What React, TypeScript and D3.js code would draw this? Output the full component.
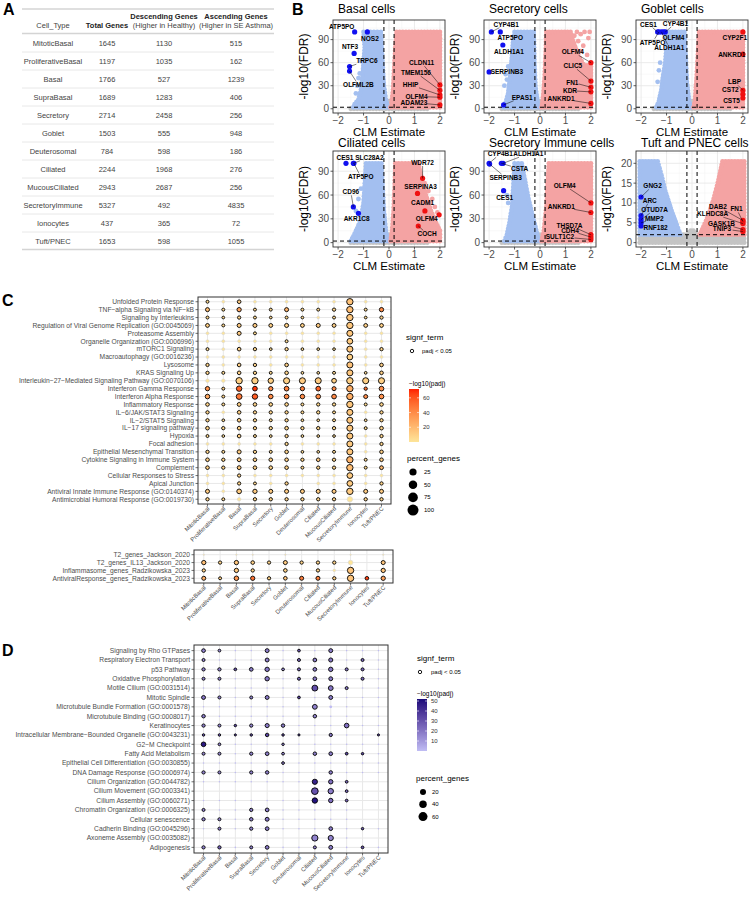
import React from "react";
import * as d3 from "d3";

const FONT = "'Liberation Sans', Arial, Helvetica, sans-serif";

// ---------- A: gene count table ----------
const cellTypes = ["MitoticBasal", "ProliferativeBasal", "Basal", "SupraBasal", "Secretory", "Goblet", "Deuterosomal", "Ciliated", "MucousCiliated", "SecretoryImmune", "Ionocytes", "Tuft/PNEC"];
const totalGenes = [1645, 1197, 1766, 1689, 2714, 1503, 784, 2244, 2943, 5327, 437, 1653];
const descendingGenes = [1130, 1035, 527, 1283, 2458, 555, 598, 1968, 2687, 492, 365, 598];
const ascendingGenes = [515, 162, 1239, 406, 256, 948, 186, 276, 256, 4835, 72, 1055];

// ---------- B: volcano plots ----------
type Pt = [number, number];
const volcanoTitles = ["Basal cells", "Secretory cells", "Goblet cells", "Ciliated cells", "Secretory Immune cells", "Tuft and PNEC cells"];
const volcanoYMax = [110, 110, 110, 110, 110, 22];
const volcanoYTicks = [[0, 30, 60, 90], [0, 30, 60, 90], [0, 30, 60, 90], [0, 30, 60, 90], [0, 30, 60, 90], [0, 5, 10, 15, 20]];
const fdrCut = 2;
const estimateCut = 0.2;

// outlines of the dense point clouds (estimate, -log10 FDR)
const blueClouds: Pt[][] = [
  [[-1.0, 100], [-0.32, 100], [-0.28, 75], [-0.24, 50], [-0.2, 30], [-0.12, 12], [-0.06, 4], [-0.04, 2], [-1.4, 2], [-1.35, 6], [-1.2, 12], [-1.1, 25], [-1.05, 40], [-1.0, 60], [-0.95, 80]],
  [[-1.0, 100], [-0.25, 100], [-0.22, 60], [-0.18, 30], [-0.1, 10], [-0.05, 2], [-1.45, 2], [-1.35, 8], [-1.25, 20], [-1.2, 35], [-1.15, 50], [-1.1, 70], [-1.05, 90]],
  [[-1.0, 100], [-0.3, 100], [-0.25, 70], [-0.2, 35], [-0.12, 12], [-0.05, 2], [-1.4, 2], [-1.3, 10], [-1.2, 25], [-1.15, 40], [-1.05, 60], [-1.0, 80]],
  [[-0.9, 100], [-0.3, 100], [-0.25, 70], [-0.2, 40], [-0.12, 15], [-0.05, 2], [-1.5, 2], [-1.4, 8], [-1.25, 18], [-1.1, 30], [-1.0, 50], [-0.95, 75]],
  [[-1.0, 100], [-0.72, 100], [-0.6, 80], [-0.45, 55], [-0.3, 35], [-0.18, 20], [-0.08, 6], [-0.04, 2], [-1.4, 2], [-1.3, 10], [-1.2, 25], [-1.1, 45], [-1.05, 70]],
  [[-2.05, 20.5], [-1.35, 20.5], [-1.2, 17], [-1.05, 13], [-0.8, 8], [-0.6, 4.5], [-0.45, 2], [-2.05, 2]],
];
const redClouds: Pt[][] = [
  [[0.3, 100], [2.0, 100], [2.0, 2], [0.06, 2], [0.1, 8], [0.16, 25], [0.2, 50], [0.25, 80]],
  [[0.25, 100], [1.2, 100], [1.3, 88], [1.5, 70], [1.7, 58], [2.0, 55], [2.0, 2], [0.06, 2], [0.12, 15], [0.18, 40], [0.22, 70]],
  [[0.28, 100], [2.0, 100], [2.0, 2], [0.06, 2], [0.12, 12], [0.18, 40], [0.24, 75]],
  [[0.25, 100], [1.15, 100], [1.25, 85], [1.45, 60], [1.65, 40], [1.85, 25], [2.0, 15], [2.0, 2], [0.06, 2], [0.12, 15], [0.18, 40], [0.22, 70]],
  [[0.35, 100], [2.0, 100], [2.0, 2], [0.06, 2], [0.15, 15], [0.25, 45], [0.3, 75]],
  [[1.2, 20.5], [2.05, 20.5], [2.05, 2], [0.3, 2], [0.45, 4], [0.65, 7], [0.85, 11], [1.05, 16]],
];
const greyCloud: Pt[] = [[-1.5, 0], [1.5, 0], [1.0, 2], [0.12, 3], [0.05, 8], [0, 10], [-0.05, 8], [-0.12, 3], [-1.0, 2]];
const greyClouds: Pt[][] = [
  greyCloud, greyCloud, greyCloud, greyCloud, greyCloud,
  [[-2.05, 0], [2.05, 0], [2.05, 2], [0.2, 2], [0.05, 3], [-0.05, 3], [-0.2, 2], [-2.05, 2]],
];
// sparse points outside the dense clouds
const blueScatter: Pt[][] = [
  [[-1.2, 40], [-1.15, 46], [-1.1, 62], [-1.25, 30], [-1.3, 20]],
  [[-1.35, 45], [-1.3, 38], [-1.4, 30], [-1.25, 55]],
  [[-1.3, 50], [-1.25, 60], [-1.35, 35]],
  [[-1.2, 55], [-1.3, 40], [-1.1, 68]],
  [[-1.25, 50], [-1.3, 60], [-0.85, 40]],
  [],
];
const redScatter: Pt[][] = [
  [],
  [[1.45, 100], [1.6, 97], [1.75, 100], [1.9, 92], [1.5, 88], [1.7, 82], [1.85, 70], [1.35, 95], [1.95, 100], [1.6, 75]],
  [],
  [[1.4, 75], [1.55, 65], [1.7, 55], [1.8, 45], [1.9, 38], [1.6, 50]],
  [],
  [],
];

// highlighted genes: name, estimate, -log10 FDR
const geneNames: string[][] = [
  ["ATP5PO", "NOS2", "NTF3", "TRPC6", "OLFML2B", "CLDN11", "TMEM156", "HHIP", "OLFM4", "ADAM23"],
  ["CYP4B1", "ATP5PO", "ALDH1A1", "SERPINB3", "EPAS1", "OLFM4", "CLIC5", "FN1", "KDR", "ANKRD1"],
  ["CES1", "CYP4B1", "ATP5PO", "OLFM4", "ALDH1A1", "CYP2F1", "ANKRD1", "LBP", "CST2", "CST5"],
  ["CES1", "SLC28A2", "ATP5PO", "CD96", "AKR1C8", "WDR72", "SERPINA3", "CADM1", "OLFM4", "COCH"],
  ["CYP4B1", "ALDH1A1", "CSTA", "SERPINB3", "CES1", "OLFM4", "ANKRD1", "THSD7A", "CDH4", "SULT1C2"],
  ["GNG2", "ARC", "OTUD7A", "MMP2", "RNF182", "DAB2", "FN1", "KLHDC8A", "GASK1B", "TNIP3"],
];
const geneEstimate: number[][] = [
  [-1.35, -0.85, -1.37, -1.55, -1.55, 2, 2, 2, 2, 2],
  [-1.91, -1.56, -1.46, -2.0, -1.43, 2, 2, 2, 2, 2],
  [-1.35, -1.05, -1.3, -1.12, -1.2, 2, 2, 2, 2, 2],
  [-1.69, -1.4, -1.38, -1.4, -1.2, 1.32, 1.12, 1.41, 1.97, 1.15],
  [-2.0, -1.45, -1.52, -1.98, -1.43, 2, 2, 2, 2, 2],
  [-2, -2, -2, -2, -2, 2, 2, 2, 2, 2],
];
const geneFdr: number[][] = [
  [100, 100, 72, 55, 49, 31, 24, 18, 15, 5],
  [100, 100, 83, 48, 5, 60, 36, 28, 22, 7],
  [100, 100, 100, 100, 100, 100, 71, 24, 19, 14],
  [100, 100, 100, 45, 37, 81, 62, 40, 35, 21],
  [100, 100, 100, 99, 65.5, 50, 38, 10, 7, 4],
  [11.5, 6.8, 5.8, 5.0, 4.2, 5.6, 5.3, 4.8, 3.3, 2.8],
];
// repelled label anchors (estimate, -log10 FDR)
const labelEstimate: number[][] = [
  [-1.86, -0.75, -1.53, -0.87, -1.2, 1.28, 1.06, 0.85, 1.08, 0.98],
  [-1.33, -1.17, -1.22, -1.3, -0.7, 1.29, 1.29, 1.27, 1.18, 0.83],
  [-1.71, -0.65, -1.55, -0.73, -0.89, 1.68, 1.56, 1.67, 1.51, 1.55],
  [-1.73, -0.77, -1.11, -1.5, -1.27, 1.32, 1.24, 1.32, 1.48, 1.5],
  [-1.56, -0.46, -0.8, -1.35, -1.39, 0.97, 0.84, 1.16, 1.18, 0.78],
  [-1.55, -1.66, -1.47, -1.48, -1.43, 1.02, 1.75, 0.81, 1.16, 1.18],
];
const labelFdr: number[][] = [
  [107, 91, 81, 62.5, 31, 60, 47, 31, 16, 8],
  [110, 92.5, 75, 48, 15, 74, 56, 34.5, 23.5, 13],
  [110, 111, 86.5, 93, 79, 92.5, 70, 35, 25, 10.5],
  [107.6, 107.6, 83, 64, 30, 101, 70.5, 50, 30, 11],
  [112, 112, 93, 82, 57, 72, 45, 22, 15, 7.5],
  [14.3, 10.7, 8.3, 6.1, 3.8, 9.1, 8.5, 7.3, 4.9, 3.5],
];

// ---------- C: enrichment of ascending genes ----------
const termsC = [
  "Unfolded Protein Response", "TNF\u2212alpha Signaling via NF\u2212kB", "Signaling by Interleukins",
  "Regulation of Viral Genome Replication (GO:0045069)", "Proteasome Assembly", "Organelle Organization (GO:0006996)",
  "mTORC1 Signaling", "Macroautophagy (GO:0016236)", "Lysosome", "KRAS Signaling Up",
  "Interleukin\u221227\u2212Mediated Signaling Pathway (GO:0070106)", "Interferon Gamma Response", "Interferon Alpha Response",
  "Inflammatory Response", "IL\u22126/JAK/STAT3 Signaling", "IL\u22122/STAT5 Signaling", "IL\u221217 signaling pathway",
  "Hypoxia", "Focal adhesion", "Epithelial Mesenchymal Transition", "Cytokine Signaling in Immune System",
  "Complement", "Cellular Responses to Stress", "Apical Junction", "Antiviral Innate Immune Response (GO:0140374)",
  "Antimicrobial Humoral Response (GO:0019730)",
];
const percentC = [
  [12, 12, 18, 12, 12, 12, 12, 12, 12, 55, 12, 12],
  [22, 12, 25, 12, 12, 22, 12, 12, 15, 55, 12, 25],
  [12, 10, 15, 12, 10, 12, 10, 10, 12, 55, 10, 15],
  [20, 12, 22, 22, 20, 22, 20, 22, 20, 55, 20, 20],
  [12, 12, 22, 12, 12, 12, 12, 12, 12, 50, 12, 12],
  [12, 12, 12, 12, 12, 12, 12, 12, 12, 45, 12, 12],
  [12, 12, 18, 15, 10, 15, 10, 10, 10, 50, 12, 15],
  [12, 12, 12, 12, 12, 12, 12, 12, 12, 45, 12, 12],
  [15, 12, 18, 15, 12, 18, 12, 12, 12, 50, 12, 18],
  [15, 12, 18, 15, 12, 18, 10, 10, 12, 50, 10, 18],
  [18, 18, 55, 55, 40, 50, 50, 50, 30, 55, 50, 50],
  [25, 12, 40, 30, 25, 30, 25, 30, 22, 55, 15, 30],
  [28, 12, 45, 40, 28, 30, 28, 30, 30, 55, 22, 30],
  [18, 12, 20, 18, 18, 18, 12, 15, 15, 55, 12, 18],
  [15, 12, 18, 15, 15, 15, 12, 15, 12, 50, 12, 15],
  [15, 10, 18, 15, 12, 15, 10, 10, 12, 50, 10, 15],
  [18, 15, 18, 15, 15, 18, 15, 15, 15, 50, 12, 18],
  [12, 10, 18, 12, 10, 15, 10, 10, 10, 50, 12, 15],
  [12, 12, 12, 12, 12, 15, 12, 12, 12, 50, 12, 15],
  [15, 12, 22, 15, 12, 18, 10, 10, 12, 50, 12, 18],
  [18, 15, 20, 18, 18, 18, 15, 18, 15, 55, 12, 18],
  [18, 15, 20, 18, 18, 18, 12, 15, 15, 55, 12, 20],
  [12, 12, 15, 12, 12, 12, 12, 12, 12, 45, 12, 12],
  [12, 12, 15, 12, 12, 15, 0, 12, 12, 45, 12, 15],
  [22, 12, 30, 25, 22, 22, 22, 22, 22, 55, 22, 22],
  [15, 12, 18, 15, 15, 15, 15, 15, 15, 40, 15, 15],
];
const log10padjC = [
  [5, 0.5, 12, 0.5, 0.5, 0.5, 0.5, 0.5, 0.5, 16, 0.5, 0.5],
  [18, 6, 30, 8, 6, 22, 6, 6, 8, 18, 5, 40],
  [6, 5, 8, 6, 5, 6, 4, 1, 5, 14, 4, 8],
  [10, 6, 12, 12, 10, 10, 10, 12, 10, 14, 10, 10],
  [0.5, 0.5, 12, 5, 0.5, 0.5, 0.5, 0.5, 0.5, 14, 0.5, 0.5],
  [0.5, 0.5, 0.5, 0.5, 0.5, 4, 0.5, 0.5, 0.5, 12, 0.5, 0.5],
  [5, 0.5, 10, 8, 4, 8, 4, 4, 4, 14, 0.5, 8],
  [0.5, 0.5, 0.5, 0.5, 0.5, 0.5, 0.5, 0.5, 0.5, 10, 0.5, 0.5],
  [8, 0.5, 10, 8, 0.5, 10, 0.5, 0.5, 0.5, 16, 0.5, 10],
  [8, 5, 10, 8, 5, 8, 4, 4, 5, 14, 4, 10],
  [0.5, 0.5, 10, 10, 10, 10, 12, 12, 10, 10, 10, 10],
  [38, 10, 55, 68, 40, 45, 45, 55, 40, 25, 50, 38],
  [28, 8, 48, 58, 40, 40, 40, 40, 42, 25, 40, 38],
  [8, 6, 10, 8, 8, 8, 6, 6, 6, 14, 5, 8],
  [8, 0.5, 10, 8, 8, 8, 6, 6, 6, 14, 0.5, 8],
  [8, 5, 10, 8, 6, 8, 5, 5, 6, 14, 5, 8],
  [8, 6, 10, 8, 6, 8, 6, 6, 6, 14, 5, 8],
  [6, 4, 10, 6, 4, 8, 4, 4, 4, 14, 0.5, 8],
  [0.5, 0.5, 0.5, 0.5, 0.5, 6, 0.5, 0.5, 0.5, 12, 0.5, 8],
  [8, 5, 12, 8, 5, 8, 4, 4, 5, 14, 0.5, 10],
  [10, 8, 12, 10, 10, 10, 8, 14, 8, 22, 6, 12],
  [10, 8, 12, 10, 8, 10, 6, 8, 8, 18, 6, 20],
  [0.5, 0.5, 8, 0.5, 0.5, 0.5, 0.5, 0.5, 0.5, 12, 0.5, 0.5],
  [0.5, 0.5, 8, 6, 0.5, 8, 0.5, 0.5, 0.5, 12, 0.5, 8],
  [12, 0.5, 12, 12, 12, 12, 12, 12, 12, 12, 12, 12],
  [8, 6, 0.5, 8, 8, 8, 8, 8, 8, 0.5, 8, 8],
];
const termsC2 = ["T2_genes_Jackson_2020", "T2_genes_IL13_Jackson_2020", "Inflammasome_genes_Radzikowska_2023", "AntiviralResponse_genes_Radzikowska_2023"];
const percentC2 = [
  [3, 0, 3, 3, 0, 3, 0, 0, 0, 3, 0, 3],
  [25, 15, 25, 18, 15, 22, 15, 15, 15, 30, 0, 22],
  [15, 0, 25, 15, 0, 18, 0, 15, 10, 55, 0, 25],
  [22, 12, 28, 25, 15, 18, 22, 22, 15, 55, 18, 25],
];
const log10padjC2 = [
  [0.5, 0, 0.5, 0.5, 0, 0.5, 0, 0, 0, 0.5, 0, 0.5],
  [18, 8, 15, 10, 8, 12, 8, 8, 8, 0.5, 0, 15],
  [8, 0, 12, 8, 0, 8, 0, 8, 0.5, 15, 0, 15],
  [25, 10, 35, 50, 10, 15, 45, 45, 10, 15, 65, 30],
];

// ---------- D: enrichment of descending genes ----------
const termsD = [
  "Signaling by Rho GTPases", "Respiratory Electron Transport", "p53 Pathway", "Oxidative Phosphorylation",
  "Motile Cilium (GO:0031514)", "Mitotic Spindle", "Microtubule Bundle Formation (GO:0001578)", "Microtubule Binding (GO:0008017)",
  "Keratinocytes", "Intracellular Membrane\u2212Bounded Organelle (GO:0043231)", "G2\u2212M Checkpoint", "Fatty Acid Metabolism",
  "Epithelial Cell Differentiation (GO:0030855)", "DNA Damage Response (GO:0006974)", "Cilium Organization (GO:0044782)",
  "Cilium Movement (GO:0003341)", "Cilium Assembly (GO:0060271)", "Chromatin Organization (GO:0006325)", "Cellular senescence",
  "Cadherin Binding (GO:0045296)", "Axoneme Assembly (GO:0035082)", "Adipogenesis",
];
const percentD = [
  [18, 10, 3, 3, 20, 3, 10, 3, 20, 3, 3, 3],
  [12, 3, 3, 3, 20, 3, 12, 18, 22, 3, 12, 3],
  [14, 14, 10, 18, 25, 10, 12, 18, 25, 12, 12, 3],
  [12, 12, 3, 3, 25, 3, 12, 18, 20, 3, 12, 3],
  [3, 3, 3, 3, 3, 3, 3, 45, 30, 12, 3, 3],
  [20, 12, 3, 12, 20, 3, 10, 3, 20, 3, 3, 3],
  [3, 3, 3, 3, 3, 3, 3, 30, 10, 3, 3, 3],
  [16, 3, 3, 3, 3, 3, 3, 16, 3, 3, 3, 3],
  [14, 12, 8, 14, 22, 16, 3, 3, 3, 28, 3, 3],
  [8, 8, 6, 8, 16, 8, 6, 3, 14, 3, 3, 6],
  [28, 10, 3, 3, 3, 8, 3, 3, 3, 3, 3, 3],
  [12, 12, 3, 14, 18, 10, 3, 16, 18, 10, 8, 3],
  [3, 3, 3, 3, 3, 10, 3, 3, 3, 3, 3, 3],
  [14, 12, 3, 14, 16, 3, 3, 3, 16, 3, 3, 3],
  [3, 3, 3, 3, 3, 3, 3, 35, 25, 10, 0, 0],
  [0, 0, 0, 0, 0, 0, 0, 58, 38, 10, 0, 0],
  [3, 3, 3, 3, 3, 3, 3, 38, 25, 10, 0, 0],
  [12, 3, 3, 14, 18, 3, 3, 3, 3, 3, 0, 0],
  [14, 12, 3, 16, 20, 3, 3, 3, 3, 3, 0, 0],
  [3, 12, 3, 14, 18, 3, 3, 3, 18, 3, 8, 3],
  [0, 0, 0, 0, 0, 0, 0, 50, 35, 3, 0, 0],
  [14, 14, 3, 12, 18, 3, 3, 12, 20, 3, 10, 3],
];
const log10padjD = [
  [16, 14, 0.5, 0.5, 18, 0.5, 30, 0.5, 18, 0.5, 0.5, 0.5],
  [16, 0.5, 0.5, 0.5, 18, 0.5, 25, 18, 20, 0.5, 25, 0.5],
  [16, 16, 30, 18, 20, 16, 25, 18, 20, 20, 25, 0.5],
  [16, 16, 0.5, 0.5, 20, 0.5, 25, 18, 18, 0.5, 25, 0.5],
  [0.5, 0.5, 0.5, 0.5, 0.5, 0.5, 0.5, 32, 20, 20, 0.5, 0.5],
  [20, 16, 0.5, 16, 18, 0.5, 35, 0.5, 18, 0.5, 0.5, 0.5],
  [0.5, 0.5, 0.5, 0.5, 0.5, 0.5, 0.5, 16, 0.5, 0.5, 0.5, 0.5],
  [18, 0.5, 0.5, 0.5, 0.5, 0.5, 0.5, 16, 0.5, 0.5, 0.5, 0.5],
  [18, 16, 35, 16, 18, 18, 0.5, 0.5, 0.5, 22, 0.5, 0.5],
  [30, 30, 35, 30, 35, 30, 35, 0.5, 20, 0.5, 0.5, 35],
  [48, 16, 0.5, 0.5, 0.5, 18, 0.5, 0.5, 0.5, 0.5, 0.5, 0.5],
  [16, 16, 0.5, 16, 18, 16, 0.5, 18, 18, 35, 35, 0.5],
  [0.5, 0.5, 0.5, 0.5, 0.5, 18, 0.5, 0.5, 0.5, 0.5, 0.5, 0.5],
  [16, 16, 0.5, 16, 18, 0.5, 0.5, 0.5, 18, 0.5, 0.5, 0.5],
  [0.5, 0.5, 0.5, 0.5, 0.5, 0.5, 0.5, 45, 22, 25, 0, 0],
  [0, 0, 0, 0, 0, 0, 0, 30, 18, 25, 0, 0],
  [0.5, 0.5, 0.5, 0.5, 0.5, 0.5, 0.5, 50, 22, 25, 0, 0],
  [16, 0.5, 0.5, 16, 18, 0.5, 0.5, 0.5, 0.5, 0.5, 0, 0],
  [16, 16, 0.5, 18, 20, 0.5, 0.5, 0.5, 0.5, 0.5, 0, 0],
  [0.5, 16, 0.5, 16, 18, 0.5, 0.5, 0.5, 18, 0.5, 30, 0.5],
  [0, 0, 0, 0, 0, 0, 0, 16, 16, 0.5, 0, 0],
  [16, 25, 0.5, 16, 18, 0.5, 0.5, 16, 18, 0.5, 30, 0.5],
];

const sigCut = -Math.log10(0.05);
const colorC = d3.scaleLinear<string>().domain([0, 72]).range(["#fde59a", "#ff1f00"]).interpolate(d3.interpolateLab);
const colorD = d3.scaleLinear<string>().domain([0, 52]).range(["#c0bdf4", "#1a0a7a"]).interpolate(d3.interpolateLab);

// ---------------------------------------------------------------
function TableA() {
  const colX = [53, 107, 164, 236];
  const rowY = (i: number) => 43 + 18 * i;
  return (
    <g fontFamily={FONT}>
      <text x={3} y={15} fontSize={16} fontWeight="bold">A</text>
      <line x1={22} x2={274} y1={9} y2={9} stroke="#d4d4d4" strokeWidth={1.5} />
      <text x={colX[0]} y={28} fontSize={7.5} fill="#444" textAnchor="middle">Cell_Type</text>
      <text x={colX[1]} y={28} fontSize={7.5} fontWeight="bold" fill="#222" textAnchor="middle">Total Genes</text>
      <text x={colX[2]} y={19} fontSize={7.5} fontWeight="bold" fill="#222" textAnchor="middle">Descending Genes</text>
      <text x={colX[2]} y={28} fontSize={7.5} fill="#444" textAnchor="middle">(Higher in Healthy)</text>
      <text x={colX[3]} y={19} fontSize={7.5} fontWeight="bold" fill="#222" textAnchor="middle">Ascending Genes</text>
      <text x={colX[3]} y={28} fontSize={7.5} fill="#444" textAnchor="middle">(Higher in SE Asthma)</text>
      <line x1={22} x2={274} y1={33.5} y2={33.5} stroke="#d4d4d4" strokeWidth={1.5} />
      {cellTypes.map((c, i) => (
        <g key={c} fontSize={7.5} fill="#444" textAnchor="middle">
          <text x={colX[0]} y={rowY(i) + 2.7}>{c}</text>
          <text x={colX[1]} y={rowY(i) + 2.7}>{totalGenes[i]}</text>
          <text x={colX[2]} y={rowY(i) + 2.7}>{descendingGenes[i]}</text>
          <text x={colX[3]} y={rowY(i) + 2.7}>{ascendingGenes[i]}</text>
          {i < cellTypes.length - 1 && <line x1={22} x2={274} y1={rowY(i) + 9} y2={rowY(i) + 9} stroke="#e2e2e2" strokeWidth={0.8} />}
        </g>
      ))}
      <line x1={22} x2={274} y1={249.5} y2={249.5} stroke="#d4d4d4" strokeWidth={1.5} />
    </g>
  );
}

function leaderEnd(px: number, py: number, lx: number, ly: number, w: number, h: number): Pt | null {
  const dx = px - lx, dy = py - ly;
  if (Math.abs(dx) <= w / 2 && Math.abs(dy) <= h / 2) return null;
  const tx = dx !== 0 ? (w / 2) / Math.abs(dx) : Infinity;
  const ty = dy !== 0 ? (h / 2) / Math.abs(dy) : Infinity;
  const t = Math.min(tx, ty);
  const ex = lx + dx * t, ey = ly + dy * t;
  if (Math.hypot(px - ex, py - ey) < 5) return null;
  return [ex, ey];
}

// points spaced evenly along a closed outline, used to give the cloud edge a dotted look
function alongOutline(pts: Pt[], spacing: number): Pt[] {
  const out: Pt[] = [];
  for (let i = 0; i < pts.length; i++) {
    const a = pts[i], b = pts[(i + 1) % pts.length];
    const len = Math.hypot(b[0] - a[0], b[1] - a[1]);
    const n = Math.max(1, Math.round(len / spacing));
    for (let k = 0; k < n; k++) out.push([a[0] + ((b[0] - a[0]) * k) / n, a[1] + ((b[1] - a[1]) * k) / n]);
  }
  return out;
}

const panelLefts = [333, 484, 636];
function Cloud({ pts, color, x, y }: { pts: Pt[]; color: string; x: d3.ScaleLinear<number, number>; y: d3.ScaleLinear<number, number> }) {
  const px: Pt[] = pts.map((d) => [x(d[0]), y(d[1])]);
  const edge = alongOutline(px, 3.2);
  return (
    <g>
      <path d={"M" + px.map((p) => p.join(",")).join("L") + "Z"} fill={color} stroke={color} strokeWidth={2.5} strokeLinejoin="round" />
      {edge.map((p, i) => <circle key={i} cx={p[0]} cy={p[1]} r={2.4} fill={color} />)}
    </g>
  );
}

function Volcano({ idx }: { idx: number }) {
  const col = idx % 3, row = Math.floor(idx / 3);
  const left = panelLefts[col], right = left + 112;
  const top = row === 0 ? 20 : 151, bottom = row === 0 ? 113 : 247;
  const ymax = volcanoYMax[idx];
  const x = d3.scaleLinear().domain([-2.2, 2.2]).range([left, right]);
  const y = d3.scaleLinear().domain([-0.05 * ymax, 1.05 * ymax]).range([bottom, top]);
  const ticks = volcanoYTicks[idx];
  const step = ticks[1] - ticks[0];
  const minorY = ticks.map((t) => t + step / 2).filter((t) => y(t) > top);
  const clipId = `vclip${idx}`;
  const names = geneNames[idx];
  const cx = (left + right) / 2;
  const titleY = row === 0 ? 13 : 147;
  return (
    <g fontFamily={FONT}>
      <defs>
        <clipPath id={clipId}><rect x={left} y={top} width={right - left} height={bottom - top} /></clipPath>
      </defs>
      <text x={left + 5} y={titleY} fontSize={12} fill="#000">{volcanoTitles[idx]}</text>
      <rect x={left} y={top} width={right - left} height={bottom - top} fill="#fff" />
      {[-1.5, -0.5, 0.5, 1.5].map((t) => <line key={"mx" + t} x1={x(t)} x2={x(t)} y1={top} y2={bottom} stroke="#f2f2f2" strokeWidth={0.5} />)}
      {minorY.map((t) => <line key={"my" + t} x1={left} x2={right} y1={y(t)} y2={y(t)} stroke="#f2f2f2" strokeWidth={0.5} />)}
      {[-2, -1, 0, 1, 2].map((t) => <line key={"gx" + t} x1={x(t)} x2={x(t)} y1={top} y2={bottom} stroke="#e6e6e6" strokeWidth={0.8} />)}
      {ticks.map((t) => <line key={"gy" + t} x1={left} x2={right} y1={y(t)} y2={y(t)} stroke="#e6e6e6" strokeWidth={0.8} />)}
      <g clipPath={`url(#${clipId})`}>
        <Cloud pts={greyClouds[idx]} color="#c4c4c4" x={x} y={y} />
        <Cloud pts={blueClouds[idx]} color="#a3bff0" x={x} y={y} />
        <Cloud pts={redClouds[idx]} color="#f4a3a3" x={x} y={y} />
        {blueScatter[idx].map((d, i) => <circle key={"bs" + i} cx={x(d[0])} cy={y(d[1])} r={2.4} fill="#a3bff0" />)}
        {redScatter[idx].map((d, i) => <circle key={"rs" + i} cx={x(d[0])} cy={y(d[1])} r={2.4} fill="#f4a3a3" />)}
        <line x1={x(-estimateCut)} x2={x(-estimateCut)} y1={top} y2={bottom} stroke="#000" strokeWidth={1} strokeDasharray="4,3" />
        <line x1={x(estimateCut)} x2={x(estimateCut)} y1={top} y2={bottom} stroke="#000" strokeWidth={1} strokeDasharray="4,3" />
        <line x1={left} x2={right} y1={y(fdrCut)} y2={y(fdrCut)} stroke="#000" strokeWidth={1} strokeDasharray="4,3" />
        {names.map((g, i) => (
          <circle key={"hd" + i} cx={x(geneEstimate[idx][i])} cy={y(geneFdr[idx][i])} r={2.6} fill={geneEstimate[idx][i] < 0 ? "#1010f0" : "#f01010"} />
        ))}
      </g>
      {names.map((g, i) => {
        const px = x(geneEstimate[idx][i]), py = y(geneFdr[idx][i]);
        const lx = x(labelEstimate[idx][i]), ly = y(labelFdr[idx][i]);
        const w = g.length * 4.2, h = 7;
        const e = leaderEnd(px, py, lx, ly, w, h);
        return (
          <g key={"lb" + i}>
            {e && <line x1={px} y1={py} x2={e[0]} y2={e[1]} stroke="#000" strokeWidth={0.5} />}
            <text x={lx} y={ly + 2.4} fontSize={6.5} fontWeight="bold" textAnchor="middle" fill="#000">{g}</text>
          </g>
        );
      })}
      <rect x={left} y={top} width={right - left} height={bottom - top} fill="none" stroke="#333" strokeWidth={0.9} />
      {[-2, -1, 0, 1, 2].map((t) => (
        <g key={"xt" + t}>
          <line x1={x(t)} x2={x(t)} y1={bottom} y2={bottom + 2.5} stroke="#333" strokeWidth={0.8} />
          <text x={x(t)} y={bottom + 10.5} fontSize={10} fill="#4d4d4d" textAnchor="middle">{t < 0 ? "\u2212" + Math.abs(t) : t}</text>
        </g>
      ))}
      {ticks.map((t) => (
        <g key={"yt" + t}>
          <line x1={left - 2.5} x2={left} y1={y(t)} y2={y(t)} stroke="#333" strokeWidth={0.8} />
          <text x={left - 4} y={y(t) + 3.5} fontSize={10} fill="#4d4d4d" textAnchor="end">{t}</text>
        </g>
      ))}
      <text transform={`translate(${left - 25},${(top + bottom) / 2}) rotate(-90)`} fontSize={12} textAnchor="middle" fill="#000">-log10(FDR)</text>
      <text x={cx} y={bottom + 22.5} fontSize={11.5} textAnchor="middle" fill="#000">CLM Estimate</text>
    </g>
  );
}

interface DotProps {
  x0: number; x1: number; y0: number; y1: number;
  terms: string[]; pct: number[][]; logp: number[][];
  color: (v: number) => string; rMax: number; pale: boolean;
}
function DotPlot({ x0, x1, y0, y1, terms, pct, logp, color, rMax, pale }: DotProps) {
  const xs = d3.scalePoint<string>().domain(cellTypes).range([x0, x1]).padding(0.6);
  const ys = d3.scalePoint<string>().domain(terms).range([y0, y1]).padding(0.6);
  const r = d3.scaleSqrt().domain([0, 100]).range([0, rMax]);
  return (
    <g fontFamily={FONT}>
      {terms.map((t) => <line key={"h" + t} x1={x0} x2={x1} y1={ys(t)} y2={ys(t)} stroke="#e8e8e8" strokeWidth={1} />)}
      {cellTypes.map((c) => <line key={"v" + c} x1={xs(c)} x2={xs(c)} y1={y0} y2={y1} stroke="#e8e8e8" strokeWidth={1} />)}
      {terms.map((t, i) =>
        cellTypes.map((c, j) => {
          const p = pct[i][j];
          if (p <= 0) return null;
          const sig = logp[i][j] > sigCut;
          return (
            <circle key={t + c} cx={xs(c)} cy={ys(t)} r={r(p)}
              fill={color(logp[i][j])}
              stroke={sig ? "#000" : pale ? "#d6d6d6" : "none"}
              strokeWidth={sig ? 0.9 : 0.6} />
          );
        })
      )}
      <rect x={x0} y={y0} width={x1 - x0} height={y1 - y0} fill="none" stroke="#333" strokeWidth={1} />
      {terms.map((t) => (
        <g key={"yl" + t}>
          <line x1={x0 - 2.5} x2={x0} y1={ys(t)} y2={ys(t)} stroke="#333" strokeWidth={0.7} />
          <text x={x0 - 4} y={ys(t)! + 2.3} fontSize={6.7} fill="#4d4d4d" textAnchor="end">{t}</text>
        </g>
      ))}
      {cellTypes.map((c) => (
        <g key={"xl" + c}>
          <line x1={xs(c)} x2={xs(c)} y1={y1} y2={y1 + 2.5} stroke="#333" strokeWidth={0.7} />
          <text transform={`translate(${xs(c)! + 2.5},${y1 + 5}) rotate(-45)`} fontSize={6} fill="#4d4d4d" textAnchor="end">{c}</text>
        </g>
      ))}
    </g>
  );
}

function ColorBar({ x, y0, y1, domainMax, color, ticks, id }: { x: number; y0: number; y1: number; domainMax: number; color: (v: number) => string; ticks: number[]; id: string }) {
  const s = d3.scaleLinear().domain([0, domainMax]).range([y1, y0]);
  const stops = d3.range(0, 11).map((i) => (i / 10) * domainMax);
  return (
    <g fontFamily={FONT}>
      <defs>
        <linearGradient id={id} x1="0" y1="1" x2="0" y2="0">
          {stops.map((v, i) => <stop key={i} offset={`${i * 10}%`} stopColor={color(v)} />)}
        </linearGradient>
      </defs>
      <rect x={x} y={y0} width={10} height={y1 - y0} fill={`url(#${id})`} />
      {ticks.map((t) => (
        <g key={t}>
          <line x1={x} x2={x + 2} y1={s(t)} y2={s(t)} stroke="#fff" strokeWidth={0.6} />
          <line x1={x + 8} x2={x + 10} y1={s(t)} y2={s(t)} stroke="#fff" strokeWidth={0.6} />
          <text x={x + 14} y={s(t) + 2} fontSize={6} fill="#333">{t}</text>
        </g>
      ))}
    </g>
  );
}

export default function App() {
  const sizeLegendC = d3.scaleLinear().domain([25, 100]).range([3.6, 5.5]);
  const sizeLegendD = d3.scaleLinear().domain([20, 60]).range([3.0, 4.5]);
  return (
    <div style={{ position: "absolute", left: 0, top: 0 }}>
      <svg width={752} height={900} style={{ display: "block", background: "#fff" }}>
        <rect width={752} height={900} fill="#fff" />
        <TableA />
        <text x={292} y={15} fontSize={16} fontWeight="bold" fontFamily={FONT}>B</text>
        {volcanoTitles.map((t, i) => <Volcano key={t} idx={i} />)}

        <text x={2} y={306} fontSize={16} fontWeight="bold" fontFamily={FONT}>C</text>
        <DotPlot x0={198} x1={391} y0={297} y1={504} terms={termsC} pct={percentC} logp={log10padjC} color={colorC} rMax={4.3} pale={true} />
        <DotPlot x0={194} x1={393} y0={550} y1={583} terms={termsC2} pct={percentC2} logp={log10padjC2} color={colorC} rMax={4.3} pale={true} />
        <g fontFamily={FONT}>
          <text x={406} y={340} fontSize={8} fill="#000">signf_term</text>
          <circle cx={412} cy={351} r={1.7} fill="#fff" stroke="#000" strokeWidth={0.9} />
          <text x={422} y={353} fontSize={6} fill="#000">padj &lt; 0.05</text>
          <text x={409} y={386} fontSize={6.5} fill="#000">{"\u2212log10(padj)"}</text>
          <ColorBar x={409} y0={389} y1={442} domainMax={72} color={colorC} ticks={[20, 40, 60]} id="cbC" />
          <text x={407} y={461} fontSize={8} fill="#000">percent_genes</text>
          {[25, 50, 75, 100].map((v, i) => (
            <g key={v}>
              <circle cx={413} cy={472 + i * 12.7} r={sizeLegendC(v)} fill="#000" />
              <text x={424} y={474 + i * 12.7} fontSize={6} fill="#000">{v}</text>
            </g>
          ))}
        </g>

        <text x={2} y={656} fontSize={16} fontWeight="bold" fontFamily={FONT}>D</text>
        <DotPlot x0={194} x1={388} y0={645} y1={853} terms={termsD} pct={percentD} logp={log10padjD} color={colorD} rMax={4.4} pale={false} />
        <g fontFamily={FONT}>
          <text x={417} y={661} fontSize={8} fill="#000">signf_term</text>
          <circle cx={420} cy={672} r={1.7} fill="#fff" stroke="#000" strokeWidth={0.9} />
          <text x={431} y={674} fontSize={6} fill="#000">padj &lt; 0.05</text>
          <text x={417} y={696} fontSize={6.5} fill="#000">{"\u2212log10(padj)"}</text>
          <ColorBar x={417} y0={699} y1={751} domainMax={52} color={colorD} ticks={[10, 20, 30, 40, 50]} id="cbD" />
          <text x={416} y={781} fontSize={8} fill="#000">percent_genes</text>
          {[20, 40, 60].map((v, i) => (
            <g key={v}>
              <circle cx={423} cy={792 + i * 12.3} r={sizeLegendD(v)} fill="#000" />
              <text x={432} y={794 + i * 12.3} fontSize={6} fill="#000">{v}</text>
            </g>
          ))}
        </g>
      </svg>
    </div>
  );
}
